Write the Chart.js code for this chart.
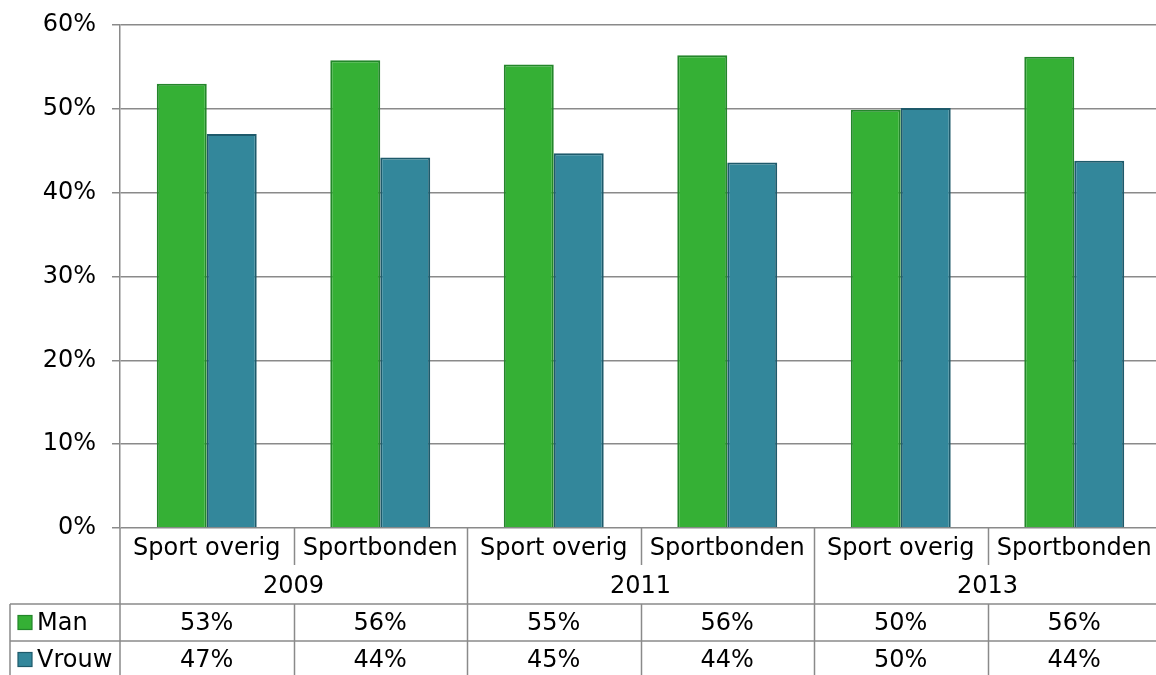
<!DOCTYPE html>
<html>
<head>
<meta charset="utf-8">
<script src="https://cdn.jsdelivr.net/npm/chart.js@4"></script>
<style>
html,body{margin:0;padding:0;background:#fff;overflow:hidden;}
#wrap{width:1156px;height:675px;overflow:hidden;position:relative;}
#c{position:absolute;left:0;top:0;}
</style>
</head>
<body>
<div id="wrap"><canvas id="c" width="1162" height="675"></canvas></div>
<script>
const categories = ['Sport overig','Sportbonden','Sport overig','Sportbonden','Sport overig','Sportbonden'];
const years = ['2009','2011','2013'];
const seriesNames = ['Man','Vrouw'];
const manValues = [53.0, 55.8, 55.3, 56.4, 49.9, 56.2];
const vrouwValues = [47.0, 44.2, 44.7, 43.6, 50.1, 43.8];
const yTicks = [0,10,20,30,40,50,60];

const FONT = 'DejaVu Sans, Verdana, sans-serif';
const FS = 24;
const LINE = '#8a8a8a';
const colors = {
  man: {fill:'#35b035', border:'#23862a'},
  vrouw: {fill:'#33879b', border:'#1e5a6b'}
};

const tablePlugin = {
  id:'tablePlugin',
  afterDraw(chart){
    const ctx = chart.ctx;
    const xs = chart.scales.x;
    const ca = chart.chartArea;
    const n = categories.length;
    const w = (ca.right - ca.left)/n;
    const L = ca.left, B = ca.bottom;
    const rowCat = [B, B+39];
    const rowYear = [B+39, B+76];
    const rowMan = [B+76, B+113];
    const rowVr = [B+113, B+150];
    ctx.save();
    ctx.strokeStyle = LINE;
    ctx.lineWidth = 1.5;
    const line=(x1,y1,x2,y2)=>{ctx.beginPath();ctx.moveTo(x1,y1);ctx.lineTo(x2,y2);ctx.stroke();};
    line(L, B, L, 675);
    line(10, rowMan[0], ca.right+5, rowMan[0]);
    line(10, rowVr[0], ca.right+5, rowVr[0]);
    line(10, rowMan[0], 10, 675);
    for(let i=1;i<n;i++){
      const x = Math.round(L + i*w)+0.5;
      if(i%2===0){
        line(x, B, x, 675);
      } else {
        line(x, B, x, B+37);
        line(x, rowMan[0], x, 675);
      }
    }
    ctx.fillStyle = '#000';
    ctx.font = FS+'px '+FONT;
    ctx.textAlign = 'center';
    ctx.textBaseline = 'middle';
    for(let i=0;i<n;i++){
      const cx = xs.getPixelForValue(i);
      ctx.fillText(categories[i], cx, (rowCat[0]+rowCat[1])/2+1);
      ctx.fillText(Math.round(manValues[i])+'%', cx, (rowMan[0]+rowMan[1])/2+1);
      ctx.fillText(Math.round(vrouwValues[i])+'%', cx, (rowVr[0]+rowVr[1])/2+1);
    }
    for(let j=0;j<years.length;j++){
      const cx = L + (2*j+1)*w;
      ctx.fillText(years[j], cx, (rowYear[0]+rowYear[1])/2+1);
    }
    const keys = [colors.man, colors.vrouw];
    const rows = [rowMan, rowVr];
    ctx.textAlign = 'left';
    for(let k=0;k<2;k++){
      const cy = (rows[k][0]+rows[k][1])/2;
      ctx.fillStyle = keys[k].fill;
      ctx.fillRect(18, cy-7, 14, 14);
      ctx.strokeStyle = keys[k].border;
      ctx.lineWidth = 1.2;
      ctx.strokeRect(18, cy-7, 14, 14);
      ctx.fillStyle = '#000';
      ctx.fillText(seriesNames[k], 37, cy+1);
    }
    ctx.restore();
  }
};

new Chart(document.getElementById('c'), {
  type:'bar',
  data:{
    labels: categories.map((c,i)=>c+' '+years[Math.floor(i/2)]),
    datasets:[
      {label:seriesNames[0], data:manValues, backgroundColor:colors.man.fill, borderColor:colors.man.border, borderWidth:2, borderSkipped:'bottom'},
      {label:seriesNames[1], data:vrouwValues, backgroundColor:colors.vrouw.fill, borderColor:colors.vrouw.border, borderWidth:2, borderSkipped:'bottom'}
    ]
  },
  options:{
    responsive:false,
    animation:false,
    devicePixelRatio:1,
    layout:{padding:{top:25,bottom:147,left:0,right:1}},
    datasets:{bar:{categoryPercentage:0.576, barPercentage:1.0}},
    plugins:{legend:{display:false}, tooltip:{enabled:false}},
    scales:{
      x:{display:false, grid:{display:false}},
      y:{
        min:0, max:60,
        afterFit(scale){ scale.width = 120; scale.paddingTop = 0; scale.paddingBottom = 0; },
        afterBuildTicks(scale){ scale.ticks = yTicks.map(v=>({value:v})); },
        ticks:{callback:v=>v+'%', color:'#000', font:{family:FONT, size:FS}, padding:16},
        grid:{color:LINE, lineWidth:1.5, tickLength:8, drawTicks:true},
        border:{display:true, color:LINE, width:1.5}
      }
    }
  },
  plugins:[tablePlugin]
});
</script>
</body>
</html>
